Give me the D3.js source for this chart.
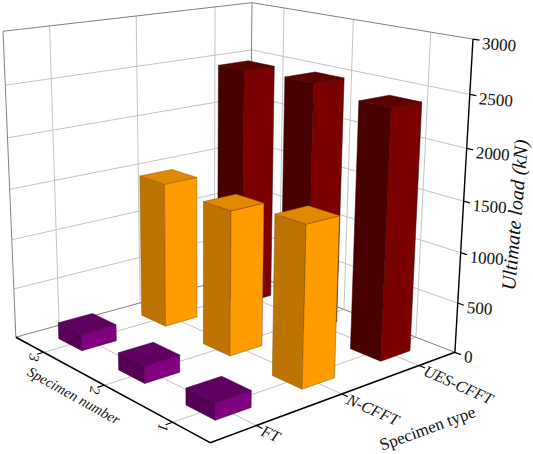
<!DOCTYPE html>
<html>
<head>
<meta charset="utf-8">
<script src="https://cdn.jsdelivr.net/npm/d3@7"></script>
<style>
html, body { margin: 0; padding: 0; background: #fff; }
text { font-family: "Liberation Serif", serif; fill: #111; }
</style>
</head>
<body>
<div id="chart"></div>
<script>
const specimenTypes = ['FT', 'N-CFFT', 'UES-CFFT'];
const specimenNumbers = ['1', '2', '3'];
const ftLoads = [160, 170, 165];
const nCfftLoads = [1540, 1430, 1470];
const uesCfftLoads = [2420, 2490, 2460];
const loadTicks = [0, 500, 1000, 1500, 2000, 2500, 3000];

const typeColors = [
    { left: '#550055', right: '#800080', top: '#600060', line: '#400040' },
    { left: '#bd7400', right: '#ff9c00', top: '#df8800', line: '#8a5a10' },
    { left: '#480000', right: '#7b0000', top: '#5c0000', line: '#380000' }
];

const width = 533;
const height = 454;

const svg = d3.select('#chart')
    .append('svg')
    .attr('width', width)
    .attr('height', height)
    .style('display', 'block');

// box corners as seen in the picture, used to solve the camera
const calibration = [
    [0, 0, 0, 210, 442],
    [1, 0, 0, 455, 353],
    [0, 1, 0, 16, 338],
    [1, 1, 0, 249, 272],
    [0, 1, 1, 3, 31],
    [1, 1, 1, 252, 3],
    [1, 0, 1, 473, 39]
];

function solveCamera(points) {
    const rows = [];
    points.forEach(([x, y, z, px, py]) => {
        rows.push([x, y, z, 1, 0, 0, 0, 0, -px * x, -px * y, -px * z, px]);
        rows.push([0, 0, 0, 0, x, y, z, 1, -py * x, -py * y, -py * z, py]);
    });
    // normal equations, then plain gaussian elimination
    const n = 11;
    const m = d3.range(n).map(i => d3.range(n + 1).map(j =>
        d3.sum(rows, r => r[i] * r[j])));
    for (let i = 0; i < n; i++) {
        let best = i;
        for (let k = i + 1; k < n; k++) {
            if (Math.abs(m[k][i]) > Math.abs(m[best][i])) best = k;
        }
        [m[i], m[best]] = [m[best], m[i]];
        for (let k = 0; k < n; k++) {
            if (k === i) continue;
            const f = m[k][i] / m[i][i];
            for (let j = i; j <= n; j++) m[k][j] -= f * m[i][j];
        }
    }
    return d3.range(n).map(i => m[i][n] / m[i][i]);
}

const cam = solveCamera(calibration);

const typeScale = d3.scaleBand().domain(specimenTypes).range([0, 1]);
const numberScale = d3.scaleBand().domain(specimenNumbers).range([0, 1]);
const loadScale = d3.scaleLinear().domain([0, 3000]).range([0, 1]);

function project(x, y, z) {
    const w = cam[8] * x + cam[9] * y + cam[10] * z + 1;
    return [
        (cam[0] * x + cam[1] * y + cam[2] * z + cam[3]) / w,
        (cam[4] * x + cam[5] * y + cam[6] * z + cam[7]) / w
    ];
}

const typeCenter = t => typeScale(t) + typeScale.bandwidth() / 2;
const numberCenter = n => numberScale(n) + numberScale.bandwidth() / 2;

function segment(a, b, color, w) {
    const p = project(...a);
    const q = project(...b);
    svg.append('line')
        .attr('x1', p[0]).attr('y1', p[1])
        .attr('x2', q[0]).attr('y2', q[1])
        .attr('stroke', color)
        .attr('stroke-width', w);
}

const gridColor = '#c4c4c4';
const frameColor = '#808080';

// floor grid
specimenTypes.forEach(t => segment([typeCenter(t), 0, 0], [typeCenter(t), 1, 0], gridColor, 1));
specimenNumbers.forEach(n => segment([0, numberCenter(n), 0], [1, numberCenter(n), 0], gridColor, 1));

// wall grid
specimenTypes.forEach(t => segment([typeCenter(t), 1, 0], [typeCenter(t), 1, 1], gridColor, 1));
specimenNumbers.forEach(n => segment([1, numberCenter(n), 0], [1, numberCenter(n), 1], gridColor, 1));
loadTicks.slice(1, -1).forEach(v => {
    segment([0, 1, loadScale(v)], [1, 1, loadScale(v)], gridColor, 1);
    segment([1, 1, loadScale(v)], [1, 0, loadScale(v)], gridColor, 1);
});

// box frame
segment([0, 1, 0], [1, 1, 0], frameColor, 1);
segment([1, 1, 0], [1, 0, 0], frameColor, 1);
segment([0, 1, 0], [0, 1, 1], frameColor, 1);
segment([1, 1, 0], [1, 1, 1], frameColor, 1);
segment([0, 1, 1], [1, 1, 1], frameColor, 1);
segment([1, 1, 1], [1, 0, 1], frameColor, 1);

// bars, far ones first
const barShare = 0.4;
const bars = [];
[ftLoads, nCfftLoads, uesCfftLoads].forEach((loads, ti) => {
    loads.forEach((load, ni) => {
        bars.push({ type: specimenTypes[ti], number: specimenNumbers[ni], load, colors: typeColors[ti] });
    });
});
bars.sort((a, b) => (typeCenter(b.type) + numberCenter(b.number)) - (typeCenter(a.type) + numberCenter(a.number)));

const facePath = d3.line();
bars.forEach(d => {
    const hx = typeScale.bandwidth() * barShare / 2;
    const hy = numberScale.bandwidth() * barShare / 2;
    const x0 = typeCenter(d.type) - hx;
    const x1 = typeCenter(d.type) + hx;
    const y0 = numberCenter(d.number) - hy;
    const y1 = numberCenter(d.number) + hy;
    const z = loadScale(d.load);
    const faces = [
        { fill: d.colors.left, pts: [[x0, y0, 0], [x0, y1, 0], [x0, y1, z], [x0, y0, z]] },
        { fill: d.colors.right, pts: [[x0, y0, 0], [x1, y0, 0], [x1, y0, z], [x0, y0, z]] },
        { fill: d.colors.top, pts: [[x0, y0, z], [x1, y0, z], [x1, y1, z], [x0, y1, z]] }
    ];
    faces.forEach(f => {
        svg.append('path')
            .attr('d', facePath(f.pts.map(p => project(...p))) + 'Z')
            .attr('fill', f.fill)
            .attr('stroke', d.colors.line)
            .attr('stroke-width', 0.5)
            .attr('stroke-linejoin', 'round');
    });
});

// axes
segment([0, 0, 0], [1, 0, 0], '#000', 1.6);
segment([0, 0, 0], [0, 1, 0], '#000', 1.6);
segment([1, 0, 0], [1, 0, 1], '#000', 1.4);

const tickLen = 0.025;
loadTicks.forEach(v => segment([1, 0, loadScale(v)], [1, -tickLen, loadScale(v)], '#000', 1.2));
specimenTypes.forEach(t => segment([typeCenter(t), 0, 0], [typeCenter(t), -tickLen, 0], '#000', 1.2));
specimenNumbers.forEach(n => segment([0, numberCenter(n), 0], [-tickLen, numberCenter(n), 0], '#000', 1.2));

function label(str, x, y, angle, size, italic, anchor) {
    svg.append('text')
        .attr('transform', `translate(${x},${y}) rotate(${angle})`)
        .attr('text-anchor', anchor || 'middle')
        .attr('dominant-baseline', 'middle')
        .attr('font-size', size)
        .attr('font-style', italic ? 'italic' : 'normal')
        .text(str);
}

loadTicks.forEach(v => {
    const p = project(1, 0, loadScale(v));
    label(v, p[0] + 9, p[1] + 6, 4, 17, false, 'start');
});

specimenTypes.forEach(t => {
    const p = project(typeCenter(t), 0, 0);
    label(t, p[0] + 5, p[1] + 6, 24, 16, true, 'start');
});

specimenNumbers.forEach(n => {
    const p = project(0, numberCenter(n), 0);
    label(n, p[0] - 11, p[1] + 5, 100, 14.5, true);
});

label('Ultimate load (kN)', 517, 215, -85, 20, true);
label('Specimen number', 73, 397, 29, 14.5, true);
label('Specimen type', 428, 430, -20, 17, false);
</script>
</body>
</html>
